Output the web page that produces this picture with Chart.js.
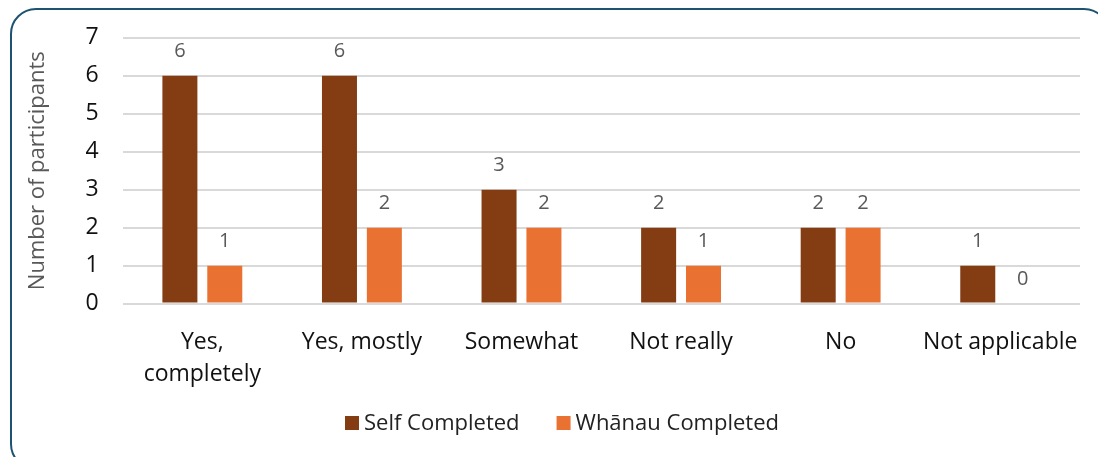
<!DOCTYPE html>
<html>
<head>
<meta charset="utf-8">
<script src="https://cdn.jsdelivr.net/npm/chart.js@4/dist/chart.umd.min.js"></script>
<style>
  html, body { margin: 0; padding: 0; background: #fff; overflow: hidden; }
  .frame {
    position: absolute; left: 10px; top: 8px; width: 1100px; height: 462px;
    border: 2px solid #1d5370; border-radius: 26px; box-sizing: border-box;
  }
  .wrap { position: absolute; left: 0; top: 0; width: 1098px; height: 457px; }
</style>
</head>
<body>
<div class="frame"></div>
<div class="wrap"><canvas id="chart"></canvas></div>
<script>
const categories = [['Yes,', 'completely'], 'Yes, mostly', 'Somewhat', 'Not really', 'No', 'Not applicable'];
const selfCompleted = [6, 6, 3, 2, 2, 1];
const whanauCompleted = [1, 2, 2, 1, 2, 0];
const yTicks = [0, 1, 2, 3, 4, 5, 6, 7];

const FONT = '"Open Sans", "Noto Sans", sans-serif';

// 柱顶数值标签
const valueLabels = {
    id: 'valueLabels',
    afterDatasetsDraw(chart) {
        const ctx = chart.ctx;
        ctx.save();
        ctx.font = '20px ' + FONT;
        ctx.fillStyle = '#595959';
        ctx.textAlign = 'center';
        ctx.textBaseline = 'middle';
        chart.data.datasets.forEach((ds, i) => {
            chart.getDatasetMeta(i).data.forEach((bar, j) => {
                ctx.fillText(ds.data[j], bar.x, bar.y - 24);
            });
        });
        ctx.restore();
    }
};

// 底部图例：方块 + 文字，整体居中
const bottomLegend = {
    id: 'bottomLegend',
    afterDraw(chart) {
        const ctx = chart.ctx;
        const box = 14, gap = 5, itemGap = 37;
        const cy = 423, cx = 562;
        ctx.save();
        ctx.font = '22px ' + FONT;
        ctx.textBaseline = 'middle';
        const items = chart.data.datasets.map(ds => ({
            text: ds.label, color: ds.backgroundColor, w: box + gap + ctx.measureText(ds.label).width
        }));
        const total = items.reduce((s, it) => s + it.w, 0) + itemGap * (items.length - 1);
        let x = cx - total / 2;
        items.forEach(it => {
            ctx.fillStyle = it.color;
            ctx.fillRect(x, cy - box / 2, box, box);
            ctx.fillStyle = '#222';
            ctx.fillText(it.text, x + box + gap, cy + 1);
            x += it.w + itemGap;
        });
        ctx.restore();
    }
};

new Chart(document.getElementById('chart'), {
    type: 'bar',
    data: {
        labels: categories,
        datasets: [{
            label: 'Self Completed',
            data: selfCompleted,
            backgroundColor: '#843c12',
            categoryPercentage: 0.5625,
            barPercentage: 0.78
        }, {
            label: 'Whānau Completed',
            data: whanauCompleted,
            backgroundColor: '#e97132',
            categoryPercentage: 0.5625,
            barPercentage: 0.78
        }]
    },
    options: {
        responsive: true,
        maintainAspectRatio: false,
        animation: false,
        layout: { padding: { left: 21, right: 18, top: 36, bottom: 51 } },
        plugins: {
            legend: { display: false },
            tooltip: { enabled: false }
        },
        scales: {
            x: {
                grid: { display: false },
                border: { display: false },
                ticks: {
                    color: '#111', font: { family: FONT, size: 23, lineHeight: 1.4 },
                    padding: 15, maxRotation: 0
                }
            },
            y: {
                min: 0, max: 7,
                afterBuildTicks: axis => { axis.ticks = yTicks.map(v => ({ value: v })); },
                grid: { color: '#d9d9d9', lineWidth: 2, drawTicks: false },
                border: { display: false },
                ticks: { color: '#111', font: { family: FONT, size: 23 }, padding: 24 },
                title: {
                    display: true, text: 'Number of participants',
                    color: '#595959', font: { family: FONT, size: 22 }, padding: { bottom: 10 }
                }
            }
        }
    },
    plugins: [valueLabels, bottomLegend]
});
</script>
</body>
</html>
